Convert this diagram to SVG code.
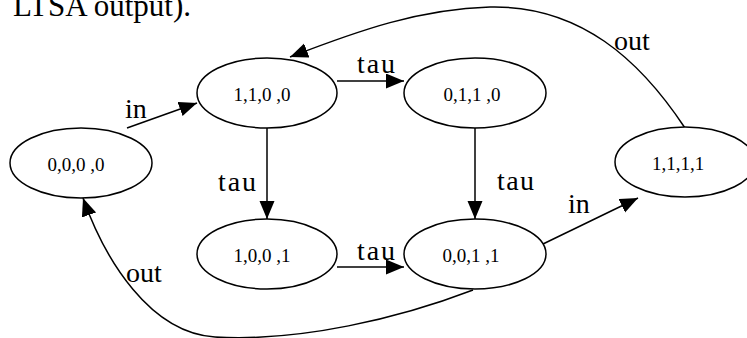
<svg xmlns="http://www.w3.org/2000/svg" width="747" height="338" viewBox="0 0 747 338">
  <style>
    .node ellipse { fill: #ffffff; stroke: #000000; stroke-width: 1.5; }
    .node text { font-family: "Liberation Serif", "Times New Roman", serif; font-size: 19px; fill: #000000; text-anchor: middle; }
    .edge { fill: none; stroke: #000000; stroke-width: 1.5; marker-end: url(#arrow); }
    .lbl { font-family: "Liberation Serif", "Times New Roman", serif; font-size: 28px; fill: #000000; }
    .caption { font-family: "Liberation Serif", "Times New Roman", serif; font-size: 31px; fill: #000000; }
  </style>
  <defs>
    <marker id="arrow" markerUnits="userSpaceOnUse" markerWidth="19" markerHeight="16" refX="18" refY="7.5" orient="auto">
      <path d="M0,0 L18,7.5 L0,15 Z" fill="#000000"/>
    </marker>
  </defs>

  <rect width="747" height="338" fill="#ffffff"/>

  <!-- caption line, partly above the top edge -->
  <text class="caption" x="13" y="16">LTSA output).</text>

  <!-- transitions -->
  <g id="connectors">
    <path class="edge" d="M127,128 L197,103"/>
    <path class="edge" d="M337,81 L404,81"/>
    <path class="edge" d="M267,128 L267,219"/>
    <path class="edge" d="M475,128 L475,219"/>
    <path class="edge" d="M337,267 L404,267"/>
    <path class="edge" d="M543,244 L638,198"/>
    <path class="edge" d="M685,128 C640,60 580,5 490,7 C420,9 360,30 290,57"/>
    <path class="edge" d="M473,290 C400,318 300,342 215,337 C150,333 105,260 83,198"/>

    <text class="lbl" x="125" y="118">in</text>
    <text class="lbl" x="357" y="73" textLength="38">tau</text>
    <text class="lbl" x="218" y="191" textLength="38">tau</text>
    <text class="lbl" x="497" y="190" textLength="37">tau</text>
    <text class="lbl" x="357" y="260" textLength="38">tau</text>
    <text class="lbl" x="568" y="213">in</text>
    <text class="lbl" x="614" y="50">out</text>
    <text class="lbl" x="126" y="282">out</text>
  </g>

  <!-- states -->
  <g id="s0000" class="node">
    <ellipse cx="81" cy="163" rx="71" ry="35"/>
    <text x="76" y="171">0,0,0 ,0</text>
  </g>
  <g id="s1100" class="node">
    <ellipse cx="267" cy="93" rx="70" ry="35"/>
    <text x="262" y="101">1,1,0 ,0</text>
  </g>
  <g id="s0110" class="node">
    <ellipse cx="475" cy="93" rx="71" ry="35"/>
    <text x="472" y="101">0,1,1 ,0</text>
  </g>
  <g id="s1001" class="node">
    <ellipse cx="267" cy="254" rx="70" ry="35"/>
    <text x="262" y="262">1,0,0 ,1</text>
  </g>
  <g id="s0011" class="node">
    <ellipse cx="475" cy="254" rx="71" ry="35"/>
    <text x="471" y="262">0,0,1 ,1</text>
  </g>
  <g id="s1111" class="node">
    <ellipse cx="685" cy="162" rx="70" ry="35"/>
    <text x="678" y="170">1,1,1,1</text>
  </g>
</svg>
